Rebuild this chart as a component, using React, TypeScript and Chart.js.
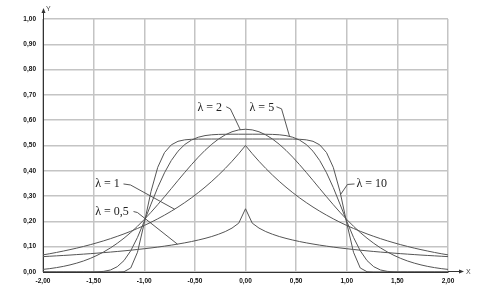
import React, { useEffect, useRef } from "react";
import { Chart, registerables } from "chart.js";

Chart.register(...registerables);

// x positions of the sampled points
const xValues = [
  -2.0, -1.9333, -1.8667, -1.8, -1.7333, -1.6667, -1.6, -1.5333, -1.4667, -1.4,
  -1.3333, -1.2667, -1.2, -1.1333, -1.0667, -1.0, -0.9333, -0.8667, -0.8, -0.7333,
  -0.6667, -0.6, -0.5333, -0.4667, -0.4, -0.3333, -0.2667, -0.2, -0.1333, -0.0667,
  0,
  0.0667, 0.1333, 0.2, 0.2667, 0.3333, 0.4, 0.4667, 0.5333, 0.6, 0.6667,
  0.7333, 0.8, 0.8667, 0.9333, 1.0, 1.0667, 1.1333, 1.2, 1.2667, 1.3333,
  1.4, 1.4667, 1.5333, 1.6, 1.6667, 1.7333, 1.8, 1.8667, 1.9333, 2.0,
];

const lambda05 = [
  0.0608, 0.0623, 0.0638, 0.0654, 0.067, 0.0688, 0.0706, 0.0725, 0.0745, 0.0766,
  0.0788, 0.0811, 0.0836, 0.0862, 0.089, 0.092, 0.0951, 0.0985, 0.1022, 0.1062,
  0.1105, 0.1152, 0.1204, 0.1263, 0.1328, 0.1403, 0.1492, 0.1598, 0.1735, 0.1931,
  0.25,
  0.1931, 0.1735, 0.1598, 0.1492, 0.1403, 0.1328, 0.1263, 0.1204, 0.1152, 0.1105,
  0.1062, 0.1022, 0.0985, 0.0951, 0.092, 0.089, 0.0862, 0.0836, 0.0811, 0.0788,
  0.0766, 0.0745, 0.0725, 0.0706, 0.0688, 0.067, 0.0654, 0.0638, 0.0623, 0.0608,
];

const lambda1 = [
  0.0677, 0.0723, 0.0773, 0.0827, 0.0884, 0.0944, 0.101, 0.1079, 0.1154, 0.1233,
  0.1318, 0.1409, 0.1506, 0.161, 0.1721, 0.1839, 0.1966, 0.2102, 0.2247, 0.2402,
  0.2567, 0.2744, 0.2933, 0.3136, 0.3352, 0.3583, 0.383, 0.4094, 0.4376, 0.4678,
  0.5,
  0.4678, 0.4376, 0.4094, 0.383, 0.3583, 0.3352, 0.3136, 0.2933, 0.2744, 0.2567,
  0.2402, 0.2247, 0.2102, 0.1966, 0.1839, 0.1721, 0.161, 0.1506, 0.1409, 0.1318,
  0.1233, 0.1154, 0.1079, 0.101, 0.0944, 0.0884, 0.0827, 0.0773, 0.0723, 0.0677,
];

const lambda2 = [
  0.0103, 0.0134, 0.0173, 0.0221, 0.028, 0.0351, 0.0436, 0.0537, 0.0656, 0.0795,
  0.0954, 0.1134, 0.1337, 0.1562, 0.1808, 0.2076, 0.2361, 0.2662, 0.2975, 0.3295,
  0.3618, 0.3936, 0.4245, 0.4538, 0.4808, 0.5049, 0.5255, 0.5421, 0.5543, 0.5617,
  0.5642,
  0.5617, 0.5543, 0.5421, 0.5255, 0.5049, 0.4808, 0.4538, 0.4245, 0.3936, 0.3618,
  0.3295, 0.2975, 0.2662, 0.2361, 0.2076, 0.1808, 0.1562, 0.1337, 0.1134, 0.0954,
  0.0795, 0.0656, 0.0537, 0.0436, 0.0351, 0.028, 0.0221, 0.0173, 0.0134, 0.0103,
];

const lambda5 = [
  0, 0, 0, 0, 0, 0, 0, 0.0001, 0.0006, 0.0025,
  0.008, 0.0209, 0.0452, 0.084, 0.1369, 0.2003, 0.2682, 0.334, 0.3924, 0.4405,
  0.4774, 0.5039, 0.5216, 0.5327, 0.5391, 0.5424, 0.5439, 0.5444, 0.5446, 0.5446,
  0.5446,
  0.5446, 0.5446, 0.5444, 0.5439, 0.5424, 0.5391, 0.5327, 0.5216, 0.5039, 0.4774,
  0.4405, 0.3924, 0.334, 0.2682, 0.2003, 0.1369, 0.084, 0.0452, 0.0209, 0.008,
  0.0025, 0.0006, 0.0001, 0, 0, 0, 0, 0, 0, 0,
];

const lambda10 = [
  0, 0, 0, 0, 0, 0, 0, 0, 0, 0,
  0, 0, 0.0011, 0.0159, 0.0781, 0.1934, 0.3183, 0.4138, 0.4721, 0.5025,
  0.5166, 0.5224, 0.5246, 0.5253, 0.5255, 0.5256, 0.5256, 0.5256, 0.5256, 0.5256,
  0.5256,
  0.5256, 0.5256, 0.5256, 0.5256, 0.5256, 0.5255, 0.5253, 0.5246, 0.5224, 0.5166,
  0.5025, 0.4721, 0.4138, 0.3183, 0.1934, 0.0781, 0.0159, 0.0011, 0, 0,
  0, 0, 0, 0, 0, 0, 0, 0, 0, 0,
];

const seriesNames = ["λ = 0,5", "λ = 1", "λ = 2", "λ = 5", "λ = 10"];
const seriesValues = [lambda05, lambda1, lambda2, lambda5, lambda10];

const xTicks = [-2, -1.5, -1, -0.5, 0, 0.5, 1, 1.5, 2];
const yTicks = [0, 0.1, 0.2, 0.3, 0.4, 0.5, 0.6, 0.7, 0.8, 0.9, 1.0];

// Curve labels: text anchor (left, middle) and leader polyline, in data coordinates
const labelTexts = ["λ = 2", "λ = 5", "λ = 1", "λ = 0,5", "λ = 10"];
const labelAnchors = [
  [-0.474, 0.649],
  [0.04, 0.649],
  [-1.484, 0.348],
  [-1.484, 0.2386],
  [1.096, 0.347],
];
const labelLeaders = [
  [[-0.19, 0.653], [-0.15, 0.645], [-0.052, 0.5627]],
  [[0.306, 0.653], [0.356, 0.645], [0.435, 0.536]],
  [[-1.205, 0.348], [-1.136, 0.344], [-0.7, 0.248]],
  [[-1.106, 0.239], [-1.067, 0.235], [-0.672, 0.11]],
  [[1.077, 0.348], [1.007, 0.346], [0.94, 0.307]],
];

const fmt = (v: number) => v.toFixed(2).replace(".", ",");

const decorPlugin = {
  id: "decor",
  afterDraw(chart: any) {
    const ctx = chart.ctx;
    const xs = chart.scales.x;
    const ys = chart.scales.y;
    const area = chart.chartArea;
    ctx.save();
    // axis extensions with arrows
    const x0 = xs.getPixelForValue(-2);
    const y0 = ys.getPixelForValue(0);
    ctx.strokeStyle = "#333";
    ctx.fillStyle = "#333";
    ctx.lineWidth = 1;
    ctx.beginPath();
    ctx.moveTo(x0 + 0.5, area.top);
    ctx.lineTo(x0 + 0.5, area.top - 9);
    ctx.stroke();
    ctx.beginPath();
    ctx.moveTo(x0 + 0.5, area.top - 11);
    ctx.lineTo(x0 - 1.5, area.top - 6);
    ctx.lineTo(x0 + 2.5, area.top - 6);
    ctx.closePath();
    ctx.fill();
    ctx.beginPath();
    ctx.moveTo(area.right, y0 - 0.5);
    ctx.lineTo(area.right + 13, y0 - 0.5);
    ctx.stroke();
    ctx.beginPath();
    ctx.moveTo(area.right + 16, y0 - 0.5);
    ctx.lineTo(area.right + 11, y0 - 2.5);
    ctx.lineTo(area.right + 11, y0 + 1.5);
    ctx.closePath();
    ctx.fill();
    ctx.font = "7px 'Liberation Sans'";
    ctx.fillStyle = "#444";
    ctx.textBaseline = "middle";
    ctx.textAlign = "left";
    ctx.fillText("Y", x0 + 3, area.top - 10);
    ctx.fillText("X", area.right + 18, y0 + 0.5);

    // curve labels with leader lines
    ctx.font = "12px 'Liberation Serif', 'Times New Roman', serif";
    ctx.fillStyle = "#222";
    ctx.strokeStyle = "#444";
    ctx.lineWidth = 0.9;
    labelTexts.forEach((t, i) => {
      const [ax, ay] = labelAnchors[i];
      ctx.fillText(t, xs.getPixelForValue(ax), ys.getPixelForValue(ay));
      const pts = labelLeaders[i];
      ctx.beginPath();
      pts.forEach(([px, py], j) => {
        const X = xs.getPixelForValue(px);
        const Y = ys.getPixelForValue(py);
        if (j === 0) ctx.moveTo(X, Y);
        else ctx.lineTo(X, Y);
      });
      ctx.stroke();
    });
    ctx.restore();
  },
};

export default function App() {
  const ref = useRef<HTMLCanvasElement>(null);
  useEffect(() => {
    if (!ref.current) return;
    const tickFont = { family: "'Liberation Sans', Arial, sans-serif", size: 6.5, weight: "bold" as const };
    const chart = new Chart(ref.current, {
      type: "line",
      data: {
        datasets: seriesValues.map((vals, i) => ({
          label: seriesNames[i],
          data: xValues.map((x, k) => ({ x, y: vals[k] })),
          borderColor: "#555",
          borderWidth: 1,
          pointRadius: 0,
          tension: 0,
          fill: false,
        })),
      },
      options: {
        animation: false,
        responsive: false,
        devicePixelRatio: 1,
        layout: { padding: { top: 19, right: 44, left: 0, bottom: 0 } },
        plugins: { legend: { display: false }, tooltip: { enabled: false } },
        scales: {
          x: {
            type: "linear",
            min: -2,
            max: 2,
            afterBuildTicks: (s: any) => {
              s.ticks = xTicks.map((v) => ({ value: v }));
            },
            afterFit: (s: any) => {
              s.height = 16;
            },
            ticks: {
              callback: (v: any) => fmt(Number(v)),
              font: tickFont,
              color: "#111",
              padding: 5,
              maxRotation: 0,
              autoSkip: false,
            },
            grid: { color: "#c4c4c4", lineWidth: 1.5, drawTicks: false },
            border: { display: true, color: "#333", width: 1 },
          },
          y: {
            type: "linear",
            min: 0,
            max: 1,
            afterBuildTicks: (s: any) => {
              s.ticks = yTicks.map((v) => ({ value: v }));
            },
            afterFit: (s: any) => {
              s.width = 43;
            },
            ticks: {
              callback: (v: any) => fmt(Number(v)),
              font: tickFont,
              color: "#111",
              padding: 7,
              autoSkip: false,
            },
            grid: { color: "#c4c4c4", lineWidth: 1.5, drawTicks: false },
            border: { display: true, color: "#333", width: 1 },
          },
        },
      },
      plugins: [decorPlugin],
    } as any);
    return () => chart.destroy();
  }, []);
  return (
    <div style={{ position: "absolute", left: 0, top: 0, width: 492, height: 288, background: "#fff" }}>
      <canvas ref={ref} width={492} height={288} />
    </div>
  );
}
